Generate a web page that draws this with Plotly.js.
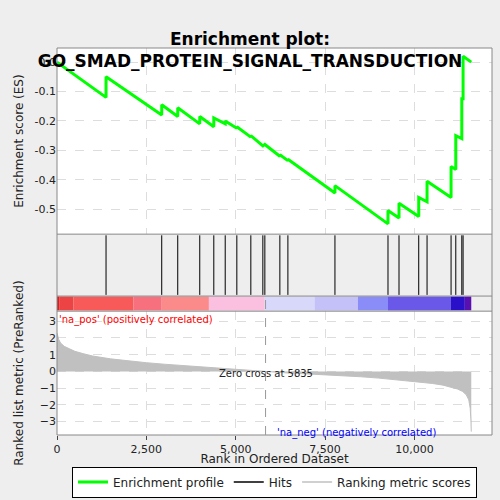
<!DOCTYPE html>
<html><head><meta charset="utf-8">
<script src="https://cdn.plot.ly/plotly-3.0.1.min.js"></script>
<style>body{margin:0;background:#eeeeee}</style></head>
<body><div id="plot" style="width:500px;height:500px"></div>
<script>
"use strict"
// enrichment profile (rank, ES) read at each hit, before/after jump
let es_rank = [0, 1372, 1372, 2930, 2930, 3378, 3378, 3994, 3994, 4387, 4387, 4706, 4706, 5031, 5031, 5423, 5423, 5759, 5815, 6235, 6235, 6460, 6460, 7776, 7776, 9260, 9260, 9568, 9568, 10120, 10120, 10353, 10353, 11025, 11025, 11157, 11157, 11325, 11325, 11361, 11361, 11590];
let es_val = [0, -0.12, -0.05, -0.18, -0.145, -0.185, -0.155, -0.21, -0.185, -0.22, -0.19, -0.21, -0.2, -0.225, -0.22, -0.255, -0.25, -0.285, -0.28, -0.32, -0.315, -0.335, -0.33, -0.445, -0.42, -0.55, -0.505, -0.53, -0.48, -0.525, -0.46, -0.475, -0.405, -0.46, -0.355, -0.365, -0.25, -0.26, -0.125, -0.125, 0.02, 0.0];
let hits = [1372, 2930, 3378, 3994, 4387, 4706, 5031, 5423, 5759, 5815, 6235, 6460, 7776, 9260, 9568, 10120, 10353, 11025, 11157, 11325, 11361];
let metric_rank = [0, 20, 50, 100, 200, 350, 500, 750, 1000, 1500, 2000, 2500, 3000, 3500, 4000, 4500, 5000, 5835, 6500, 7000, 7500, 8000, 8500, 9000, 9500, 10000, 10500, 10800, 11000, 11200, 11350, 11450, 11520, 11560, 11580, 11590];
let metric_val = [2.3, 2.1, 1.9, 1.7, 1.5, 1.35, 1.2, 1.05, 0.92, 0.75, 0.62, 0.52, 0.43, 0.35, 0.28, 0.2, 0.13, 0.0, -0.1, -0.15, -0.2, -0.25, -0.32, -0.4, -0.5, -0.6, -0.72, -0.82, -0.92, -1.05, -1.2, -1.4, -1.7, -2.2, -2.9, -3.6];
let bar_edges = [0, 60, 460, 2140, 2930, 4250, 5810, 7210, 8420, 9260, 11010, 11410, 11590];
let bar_colors = ["#d42020", "#ec4444", "#f85a5a", "#f7707e", "#fb8a8a", "#fbc0e0", "#d8d8fa", "#c4c0f8", "#8a8cf8", "#6a58e8", "#2a10c8", "#5a10b0"];

let traces = [
    { x: es_rank, y: es_val, type: "scatter", mode: "lines", line: { color: "#00ff00", width: 3 }, name: "Enrichment profile", xaxis: "x", yaxis: "y" },
    { x: [0], y: [null], type: "scatter", mode: "lines", line: { color: "black", width: 1.5 }, name: "Hits" },
    { x: [0], y: [null], type: "scatter", mode: "lines", line: { color: "#c0c0c0", width: 1.5 }, name: "Ranking metric scores" },
    { x: metric_rank, y: metric_val, type: "scatter", mode: "lines", fill: "tozeroy", fillcolor: "#c0c0c0", line: { color: "#c0c0c0", width: 1 }, showlegend: false, xaxis: "x", yaxis: "y3" }
];

let shapes = [];
for (let h of hits) {
    shapes.push({ type: "line", xref: "x", yref: "paper", x0: h, x1: h, y0: 0.362, y1: 0.516, line: { color: "black", width: 1 } });
}
for (let i = 0; i < bar_colors.length; i++) {
    shapes.push({ type: "rect", xref: "x", yref: "paper", x0: bar_edges[i], x1: bar_edges[i + 1], y0: 0.322, y1: 0.358, fillcolor: bar_colors[i], line: { width: 0 } });
}
// panel borders
shapes.push({ type: "rect", xref: "paper", yref: "paper", x0: 0, x1: 1, y0: 0, y1: 1, line: { color: "#888", width: 1 } });
shapes.push({ type: "line", xref: "paper", yref: "paper", x0: 0, x1: 1, y0: 0.519, y1: 0.519, line: { color: "#888", width: 1 } });
shapes.push({ type: "line", xref: "paper", yref: "paper", x0: 0, x1: 1, y0: 0.359, y1: 0.359, line: { color: "#888", width: 1 } });
shapes.push({ type: "line", xref: "paper", yref: "paper", x0: 0, x1: 1, y0: 0.320, y1: 0.320, line: { color: "#888", width: 1 } });
shapes.push({ type: "line", xref: "x", yref: "paper", x0: 5835, x1: 5835, y0: 0, y1: 0.359, line: { color: "#999", width: 1, dash: "dash" } });

let grid = { showgrid: true, gridcolor: "#dddddd", griddash: "dash", zeroline: false, showline: false };
let layout = {
    width: 500, height: 500,
    paper_bgcolor: "#eeeeee", plot_bgcolor: "white",
    margin: { l: 57, r: 8, t: 48, b: 65 },
    font: { family: "DejaVu Sans", size: 11, color: "#222" },
    title: { text: "<b>Enrichment plot:<br>GO_SMAD_PROTEIN_SIGNAL_TRANSDUCTION</b>", font: { size: 17, color: "black" }, x: 0.5, y: 0.91, yanchor: "bottom" },
    xaxis: Object.assign({}, grid, { range: [0, 12170], tickvals: [0, 2500, 5000, 7500, 10000], ticktext: ["0", "2,500", "5,000", "7,500", "10,000"], ticks: "outside", ticklen: 4, anchor: "y3", title: { text: "Rank in Ordered Dataset", font: { size: 12 }, standoff: 6 } }),
    yaxis: Object.assign({}, grid, { domain: [0.519, 1], range: [-0.585, 0.048], tickvals: [0, -0.1, -0.2, -0.3, -0.4, -0.5], ticktext: ["0.0", "-0.1", "-0.2", "-0.3", "-0.4", "-0.5"], title: { text: "Enrichment score (ES)", font: { size: 12 } } }),
    yaxis3: Object.assign({}, grid, { domain: [0, 0.320], range: [-3.8, 3.6], tickvals: [-3, -2, -1, 0, 1, 2, 3], title: { text: "Ranked list metric (PreRanked)", font: { size: 12 } } }),
    shapes: shapes,
    annotations: [
        { xref: "x", yref: "paper", x: 0, y: 0.318, xanchor: "left", yanchor: "top", text: "'na_pos' (positively correlated)", showarrow: false, font: { color: "red", size: 10 } },
        { xref: "x", yref: "paper", x: 6100, y: 0.025, xanchor: "left", yanchor: "top", text: "'na_neg' (negatively correlated)", showarrow: false, font: { color: "blue", size: 10 } },
        { xref: "x", yref: "y3", x: 5835, y: -0.15, text: "Zero cross at 5835", showarrow: false, font: { size: 10 } }
    ],
    showlegend: true,
    legend: { orientation: "h", x: 0.5, xanchor: "center", yref: "container", y: 0.005, yanchor: "bottom", bordercolor: "black", borderwidth: 1, bgcolor: "white", font: { size: 12 } }
};
Plotly.newPlot("plot", traces, layout, { displayModeBar: false });
</script></body></html>
